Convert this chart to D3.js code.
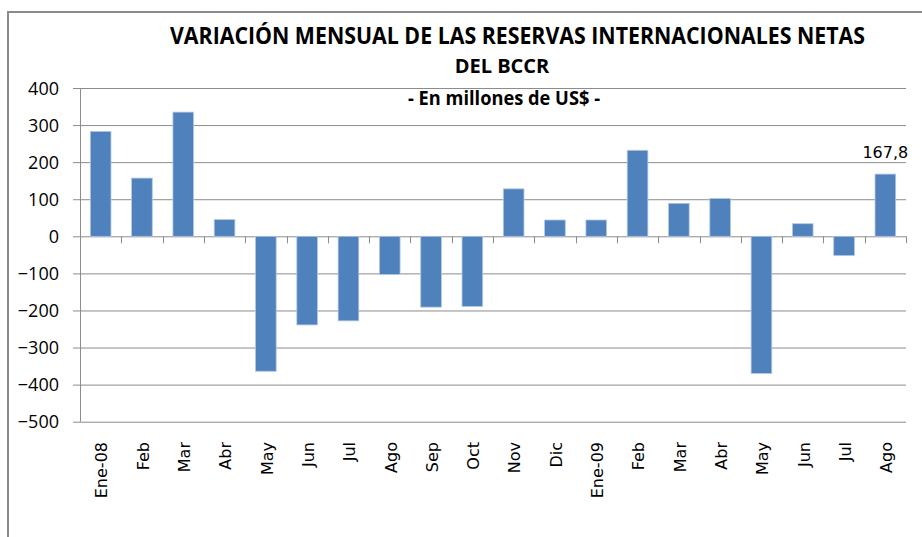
<!DOCTYPE html>
<html>
<head>
<meta charset="utf-8">
<script src="https://cdn.jsdelivr.net/npm/d3@7"></script>
<style>
  body { margin: 0; background: #fff; }
</style>
</head>
<body>
<div id="chart"></div>
<script>

// Monthly change of net international reserves (millions of US$)
const months = ["Ene-08", "Feb", "Mar", "Abr", "May", "Jun", "Jul", "Ago", "Sep", "Oct",
                "Nov", "Dic", "Ene-09", "Feb", "Mar", "Abr", "May", "Jun", "Jul", "Ago"]
const variation = [283, 157, 335, 45, -364, -239, -228, -103, -191, -189,
                   128, 44, 44, 232, 89, 102, -370, 34, -52, 167.8]
const yTicks = [400, 300, 200, 100, 0, -100, -200, -300, -400, -500]
const titleLines = ["VARIACIÓN MENSUAL DE LAS RESERVAS INTERNACIONALES NETAS", "DEL BCCR"]
const subtitle = "- En millones de US$ -"

function drawChart(container) {

    const WIDTH = 922
    const HEIGHT = 537
    const PLOT = {LEFT: 80, RIGHT: 906, TOP: 88, BOTTOM: 421.7}
    const barColour = "#4f81bd"
    const gridColour = "#8c8c8c"

    const data = months.map((m, i) => ({key: i, month: m, value: variation[i]}))

    let svg = d3.select(container).append("svg")
        .attr("width", WIDTH)
        .attr("height", HEIGHT)
        .style("display", "block")

    // outer frame (only top and left edges visible)
    svg.append("path")
        .attr("d", "M8,537 V12 H922")
        .attr("fill", "none")
        .attr("stroke", "#8a8a8a")
        .attr("stroke-width", 2)

    // scales
    let xScale = d3.scaleBand()
        .domain(data.map(d => d.key))
        .range([PLOT.LEFT, PLOT.RIGHT])
        .paddingInner(0)

    let yScale = d3.scaleLinear()
        .domain([-500, 400])
        .range([PLOT.BOTTOM, PLOT.TOP])

    // gridlines + y axis
    let yAxis = svg.append("g")
        .attr("transform", "translate(" + PLOT.LEFT + ",0)")
        .call(d3.axisLeft(yScale)
            .tickValues(yTicks)
            .tickSize(-(PLOT.RIGHT - PLOT.LEFT))
            .tickFormat(d3.format("d")))
    yAxis.select(".domain").remove()
    yAxis.selectAll(".tick line")
        .attr("x1", -7)
        .attr("stroke", gridColour)
    yAxis.selectAll(".tick text")
        .attr("x", -21)
        .attr("dy", "0.34em")
        .style("font-family", "'Open Sans', sans-serif")
        .style("font-size", "18px")
        .style("fill", "#000")

    // vertical axis line
    svg.append("line")
        .attr("x1", PLOT.LEFT + 0.5).attr("x2", PLOT.LEFT + 0.5)
        .attr("y1", PLOT.TOP).attr("y2", PLOT.BOTTOM)
        .attr("stroke", gridColour)

    // bars
    const barW = xScale.bandwidth() * 0.5
    svg.append("g").selectAll("rect")
        .data(data)
        .join("rect")
        .attr("x", d => xScale(d.key) + (xScale.bandwidth() - barW) / 2)
        .attr("width", barW)
        .attr("y", d => yScale(Math.max(0, d.value)))
        .attr("height", d => Math.abs(yScale(d.value) - yScale(0)))
        .attr("fill", barColour)
        .attr("stroke", "#b3c8e3")
        .attr("stroke-width", 0.8)

    // category axis at zero, ticks between categories
    const zeroY = yScale(0)
    const boundaries = d3.range(data.length + 1).map(i => PLOT.LEFT + i * xScale.step())
    svg.append("g").selectAll("line")
        .data(boundaries)
        .join("line")
        .attr("x1", d => Math.round(d) + 0.5).attr("x2", d => Math.round(d) + 0.5)
        .attr("y1", zeroY).attr("y2", zeroY + 7)
        .attr("stroke", gridColour)

    // month labels, rotated
    svg.append("g").selectAll("text")
        .data(data)
        .join("text")
        .attr("transform", d => "translate(" + (xScale(d.key) + xScale.bandwidth() / 2 + 1) + ",442) rotate(-90)")
        .attr("text-anchor", "end")
        .attr("dy", "0.36em")
        .style("font-family", "'DejaVu Sans', sans-serif")
        .style("font-size", "16px")
        .text(d => d.month)

    // data label on last bar
    const last = data[data.length - 1]
    svg.append("text")
        .attr("x", xScale(last.key) + xScale.bandwidth() / 2)
        .attr("y", 158)
        .attr("text-anchor", "middle")
        .style("font-family", "'DejaVu Sans', sans-serif")
        .style("font-size", "16px")
        .text(d3.format(".1f")(last.value).replace(".", ","))

    // titles
    const titleFont = "'Open Sans', sans-serif"
    svg.append("text")
        .attr("x", 170).attr("y", 44)
        .attr("textLength", 695)
        .attr("lengthAdjust", "spacingAndGlyphs")
        .style("font-family", titleFont)
        .style("font-weight", "bold")
        .style("font-size", "23px")
        .text(titleLines[0])
    svg.append("text")
        .attr("x", 502).attr("y", 73)
        .attr("text-anchor", "middle")
        .style("font-family", titleFont)
        .style("font-weight", "bold")
        .style("font-size", "20px")
        .text(titleLines[1])
    svg.append("text")
        .attr("x", 408).attr("y", 105)
        .attr("textLength", 192)
        .attr("lengthAdjust", "spacingAndGlyphs")
        .style("font-family", titleFont)
        .style("font-weight", "bold")
        .style("font-size", "20px")
        .text(subtitle)
}

drawChart("#chart")
</script>
</body>
</html>
